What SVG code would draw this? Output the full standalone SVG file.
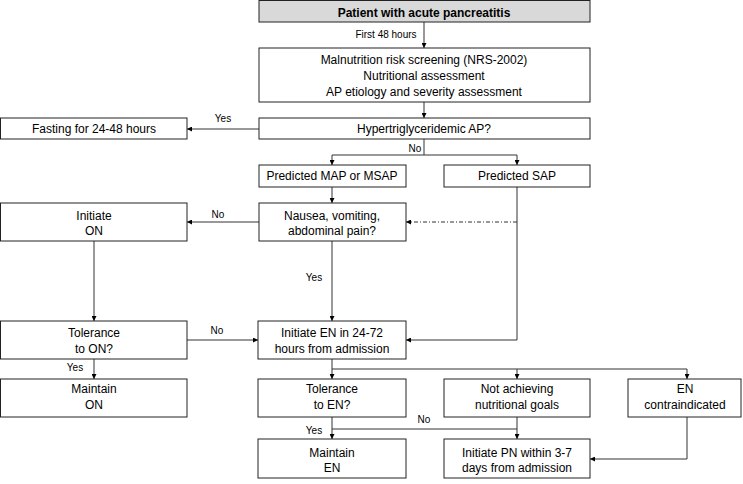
<svg xmlns="http://www.w3.org/2000/svg" width="743" height="484" viewBox="0 0 743 484">
<defs>
<marker id="ah" viewBox="0 0 10 10" refX="10" refY="5" markerWidth="5" markerHeight="5" orient="auto" markerUnits="userSpaceOnUse">
<path d="M0,0 L10,5 L0,10 z" fill="#000"/>
</marker>
<style>
.box{fill:#fff;stroke:#222;stroke-width:1}
.gray{fill:#d9d9d9}
.t{font-family:"Liberation Sans",Arial,sans-serif;font-size:12px;fill:#000;text-anchor:middle}
.b{font-weight:bold}
.s{font-family:"Liberation Sans",Arial,sans-serif;font-size:10px;fill:#000;text-anchor:middle}
.c{fill:none;stroke:#333;stroke-width:1}
.a{marker-end:url(#ah)}
.dd{stroke-dasharray:4 2 1 2}
</style>
</defs>
<rect width="743" height="484" fill="#fff"/>
<g id="connectors">
<line class="c a" x1="424" y1="22" x2="424" y2="48"/>
<line class="c a" x1="424" y1="102" x2="424" y2="118"/>
<line class="c a" x1="259" y1="129" x2="187" y2="129"/>
<polyline class="c" points="424,139 424,155"/>
<polyline class="c" points="332,155 517,155"/>
<line class="c a" x1="332" y1="155" x2="332" y2="165"/>
<line class="c a" x1="517" y1="155" x2="517" y2="165"/>
<line class="c a" x1="332" y1="187" x2="332" y2="203"/>
<line class="c a" x1="259" y1="222" x2="187" y2="222"/>
<line class="c a dd" x1="517" y1="222" x2="406" y2="222"/>
<line class="c a" x1="94" y1="241" x2="94" y2="321"/>
<line class="c a" x1="332" y1="241" x2="332" y2="321"/>
<polyline class="c a" points="517,187 517,340 406,340"/>
<line class="c a" x1="187" y1="340" x2="258" y2="340"/>
<line class="c a" x1="94" y1="359" x2="94" y2="379"/>
<polyline class="c" points="332,359 332,369 687,369"/>
<line class="c a" x1="332" y1="369" x2="332" y2="379"/>
<line class="c a" x1="517" y1="369" x2="517" y2="379"/>
<line class="c a" x1="687" y1="369" x2="687" y2="379"/>
<line class="c a" x1="332" y1="417" x2="332" y2="439"/>
<polyline class="c" points="332,429 517,429"/>
<line class="c a" x1="517" y1="417" x2="517" y2="439"/>
<polyline class="c a" points="687,417 687,459 590,459"/>
<text class="s" x="386" y="38">First 48 hours</text>
<text class="s" x="223" y="122">Yes</text>
<text class="s" x="415" y="152">No</text>
<text class="s" x="218" y="218">No</text>
<text class="s" x="314" y="281">Yes</text>
<text class="s" x="217" y="334">No</text>
<text class="s" x="75" y="371">Yes</text>
<text class="s" x="424" y="423">No</text>
<text class="s" x="314" y="434">Yes</text>
</g>
<g id="n-patient"><rect class="box gray" x="259" y="0.5" width="331" height="21.5"/><text class="t b" x="424" y="17">Patient with acute pancreatitis</text></g>
<g id="n-screening"><rect class="box" x="259" y="48" width="331" height="54"/><text class="t" x="424" y="64">Malnutrition risk screening (NRS-2002)</text><text class="t" x="424" y="80">Nutritional assessment</text><text class="t" x="424" y="96">AP etiology and severity assessment</text></g>
<g id="n-htg"><rect class="box" x="259" y="118" width="331" height="21"/><text class="t" x="424" y="133">Hypertriglyceridemic AP?</text></g>
<g id="n-fasting"><rect class="box" x="0.5" y="118" width="186.5" height="21"/><text class="t" x="94" y="133">Fasting for 24-48 hours</text></g>
<g id="n-map"><rect class="box" x="259" y="165" width="147" height="22"/><text class="t" x="332" y="180">Predicted MAP or MSAP</text></g>
<g id="n-sap"><rect class="box" x="444" y="165" width="146" height="22"/><text class="t" x="517" y="180">Predicted SAP</text></g>
<g id="n-nausea"><rect class="box" x="259" y="203" width="147" height="38"/><text class="t" x="332" y="220">Nausea, vomiting,</text><text class="t" x="332" y="235">abdominal pain?</text></g>
<g id="n-initon"><rect class="box" x="0.5" y="203" width="186.5" height="38"/><text class="t" x="94" y="220">Initiate</text><text class="t" x="94" y="235">ON</text></g>
<g id="n-tolon"><rect class="box" x="0.5" y="321" width="186.5" height="38"/><text class="t" x="94" y="337">Tolerance</text><text class="t" x="94" y="353">to ON?</text></g>
<g id="n-initen"><rect class="box" x="258" y="321" width="148" height="38"/><text class="t" x="332" y="337">Initiate EN in 24-72</text><text class="t" x="332" y="353">hours from admission</text></g>
<g id="n-mainon"><rect class="box" x="0.5" y="379" width="186.5" height="38"/><text class="t" x="94" y="393">Maintain</text><text class="t" x="94" y="409">ON</text></g>
<g id="n-tolen"><rect class="box" x="258" y="379" width="148" height="38"/><text class="t" x="332" y="393">Tolerance</text><text class="t" x="332" y="409">to EN?</text></g>
<g id="n-goals"><rect class="box" x="444" y="379" width="146" height="38"/><text class="t" x="517" y="393">Not achieving</text><text class="t" x="517" y="409">nutritional goals</text></g>
<g id="n-contra"><rect class="box" x="628" y="379" width="113" height="38"/><text class="t" x="685" y="393">EN</text><text class="t" x="685" y="409">contraindicated</text></g>
<g id="n-mainen"><rect class="box" x="258" y="439" width="148" height="39"/><text class="t" x="332" y="457">Maintain</text><text class="t" x="332" y="472">EN</text></g>
<g id="n-pn"><rect class="box" x="444" y="439" width="146" height="39"/><text class="t" x="517" y="457">Initiate PN within 3-7</text><text class="t" x="517" y="472">days from admission</text></g>
</svg>
